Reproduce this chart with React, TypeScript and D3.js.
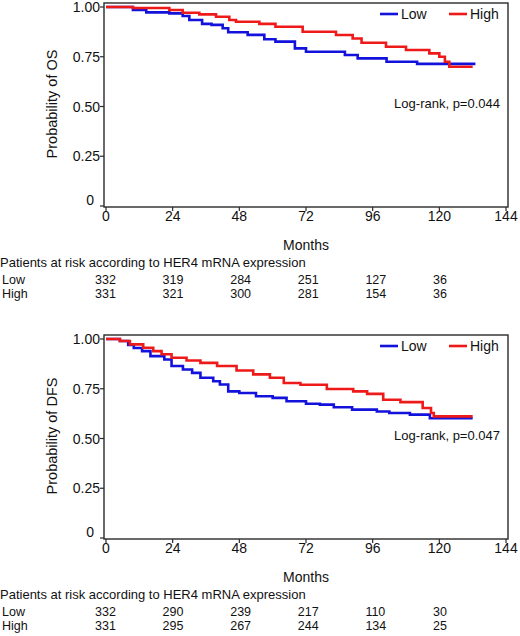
import React from "react";
import * as d3 from "d3";

const xTicks = [0, 24, 48, 72, 96, 120, 144];
const yTicks = [0, 0.25, 0.5, 0.75, 1];
const yTickLabels = ["0", "0.25", "0.50", "0.75", "1.00"];
const riskMonths = [0, 24, 48, 72, 96, 120];
const groups = ["Low", "High"];

// Overall survival (time in months, survival probability) step points
const osLow: [number, number][] = [
  [0, 1], [9.7, 0.985], [14.5, 0.973], [22.8, 0.968], [27.6, 0.955], [30, 0.935],
  [34.6, 0.915], [38, 0.91], [42, 0.893], [44, 0.873], [51, 0.86], [57, 0.838],
  [61, 0.826], [68, 0.792], [72, 0.775], [86, 0.759], [90.6, 0.742], [101, 0.725],
  [112, 0.714], [133, 0.714],
];
const osHigh: [number, number][] = [
  [0, 1], [9.7, 0.995], [22.8, 0.985], [27.6, 0.971], [33.6, 0.963], [39.6, 0.951],
  [44.4, 0.935], [46.8, 0.926], [55.2, 0.915], [61, 0.901], [70.8, 0.876], [82.8, 0.859],
  [88.8, 0.842], [92, 0.82], [100.8, 0.8], [108, 0.784], [116.4, 0.767], [120, 0.75],
  [122, 0.725], [123.6, 0.7], [132, 0.7],
];
// Disease-free survival
const dfsLow: [number, number][] = [
  [0, 1], [5, 0.99], [8, 0.97], [10, 0.955], [13, 0.939], [16, 0.914], [21, 0.897],
  [23.6, 0.864], [27.7, 0.847], [31, 0.83], [34, 0.805], [38.6, 0.788], [41, 0.771],
  [44, 0.737], [48, 0.729], [54, 0.712], [60, 0.704], [65, 0.687], [72, 0.675],
  [77, 0.67], [82, 0.657], [88.6, 0.645], [97.5, 0.636], [102, 0.628], [109.4, 0.62],
  [116.6, 0.602], [132, 0.602],
];
const dfsHigh: [number, number][] = [
  [0, 1], [5, 0.99], [8.6, 0.973], [13.4, 0.956], [17, 0.939], [20, 0.923], [23.6, 0.906],
  [29, 0.892], [34, 0.88], [40, 0.864], [47, 0.842], [53, 0.822], [59, 0.805], [64, 0.779],
  [70, 0.77], [79.5, 0.749], [89, 0.737], [94, 0.724], [99.8, 0.695], [106, 0.683],
  [114, 0.653], [117, 0.628], [118, 0.611], [132, 0.611],
];

const osRiskLow = [332, 319, 284, 251, 127, 36];
const osRiskHigh = [331, 321, 300, 281, 154, 36];
const dfsRiskLow = [332, 290, 239, 217, 110, 30];
const dfsRiskHigh = [331, 295, 267, 244, 134, 25];

const BLUE = "#1212dc";
const RED = "#ee1a1a";
const FONT = "'Liberation Sans', Arial, sans-serif";

const x = d3.scaleLinear().domain([0, 144]).range([106, 506]);
const col = d3.scaleLinear().domain([0, 120]).range([95, 433]);

function Panel({ oy, yLabel, low, high, pval, riskLow, riskHigh }: any) {
  const y = d3.scaleLinear().domain([0, 1]).range([oy + 206, oy + 7]);
  const line = d3
    .line<[number, number]>()
    .x((d) => x(d[0]))
    .y((d) => y(d[1]))
    .curve(d3.curveStepAfter);
  const top = oy + 3;
  const bottom = oy + 207;
  return (
    <g fontFamily={FONT} fill="#111">
      <path d={line(low) || ""} fill="none" stroke={BLUE} strokeWidth={2.6} />
      <path d={line(high) || ""} fill="none" stroke={RED} strokeWidth={2.6} />
      <rect x={104} y={top} width={404} height={bottom - top} fill="none" stroke="#2a2a2a" strokeWidth={1.4} />
      {yTicks.map((t, i) => (
        <g key={t}>
          <line x1={100} x2={104} y1={y(t)} y2={y(t)} stroke="#2a2a2a" strokeWidth={1.2} />
          <text
            x={t === 0 ? 94 : 100}
            y={y(t) + (t === 0 ? -1 : 5)}
            textAnchor="end"
            fontSize={14}
          >
            {yTickLabels[i]}
          </text>
        </g>
      ))}
      <text
        transform={`translate(57,${oy + 104}) rotate(-90)`}
        textAnchor="middle"
        fontSize={14.5}
      >
        {yLabel}
      </text>
      {xTicks.map((t) => (
        <g key={t}>
          <line x1={x(t)} x2={x(t)} y1={bottom} y2={bottom + 4} stroke="#2a2a2a" strokeWidth={1.2} />
          <text x={x(t)} y={oy + 221} textAnchor="middle" fontSize={14}>
            {t}
          </text>
        </g>
      ))}
      <text x={306} y={oy + 250} textAnchor="middle" fontSize={14}>
        Months
      </text>
      <text x={0} y={oy + 267} fontSize={13}>
        Patients at risk according to HER4 mRNA expression
      </text>
      {groups.map((g, gi) => (
        <g key={g}>
          <text x={2} y={oy + 284 + gi * 13.5} fontSize={12.5}>
            {g}
          </text>
          {(gi === 0 ? riskLow : riskHigh).map((v: number, i: number) => (
            <text key={i} x={col(riskMonths[i])} y={oy + 284 + gi * 13.5} fontSize={12.5}>
              {v}
            </text>
          ))}
        </g>
      ))}
      <line x1={380} x2={398} y1={oy + 14} y2={oy + 14} stroke={BLUE} strokeWidth={2.6} />
      <text x={401} y={oy + 19} fontSize={14}>
        Low
      </text>
      <line x1={449} x2={467} y1={oy + 14} y2={oy + 14} stroke={RED} strokeWidth={2.6} />
      <text x={470} y={oy + 19} fontSize={14}>
        High
      </text>
      <text x={500} y={oy + 108} textAnchor="end" fontSize={13}>
        {pval}
      </text>
    </g>
  );
}

export default function App() {
  return (
    <svg
      width={520}
      height={636}
      style={{ position: "absolute", left: 0, top: 0, background: "#fff" }}
    >
      <rect width={520} height={636} fill="#fff" />
      <Panel oy={0} yLabel="Probability of OS" low={osLow} high={osHigh} pval="Log-rank, p=0.044" riskLow={osRiskLow} riskHigh={osRiskHigh} />
      <Panel oy={332} yLabel="Probability of DFS" low={dfsLow} high={dfsHigh} pval="Log-rank, p=0.047" riskLow={dfsRiskLow} riskHigh={dfsRiskHigh} />
    </svg>
  );
}
